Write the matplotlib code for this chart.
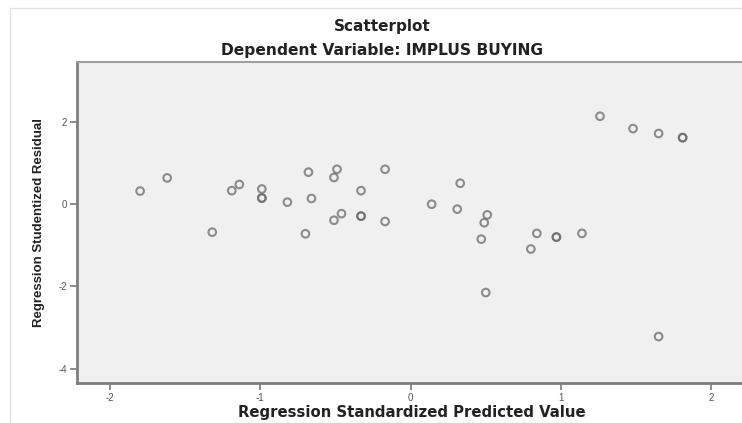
import matplotlib.pyplot as plt
from matplotlib.patches import Rectangle

plt.rcParams['font.family'] = ['Liberation Sans', 'DejaVu Sans']

# values (predicted value, studentized residual)
pred = [-1.80, -1.62, -1.32, -1.19, -1.14, -0.99, -0.99, -0.99, -0.82, -0.68,
        -0.66, -0.70, -0.49, -0.51, -0.46, -0.51, -0.33, -0.33, -0.33, -0.17,
        -0.17, 0.14, 0.33, 0.31, 0.51, 0.49, 0.47, 0.50, 0.80, 0.84,
        0.97, 0.97, 1.14, 1.26, 1.48, 1.65, 1.81, 1.81, 1.65]
resid = [0.32, 0.64, -0.68, 0.33, 0.48, 0.37, 0.15, 0.15, 0.05, 0.78,
         0.14, -0.72, 0.85, 0.65, -0.23, -0.39, 0.33, -0.29, -0.29, 0.85,
         -0.42, 0.00, 0.51, -0.12, -0.26, -0.45, -0.85, -2.15, -1.09, -0.71,
         -0.80, -0.80, -0.71, 2.14, 1.84, 1.72, 1.62, 1.62, -3.22]

xticks = [-2, -1, 0, 1, 2]
yticks = [-4, -2, 0, 2]

fig = plt.figure(figsize=(7.42, 4.23), dpi=100)
fig.patches.append(Rectangle((10 / 742, -0.1), 1.1, 415 / 423 + 0.1,
                             transform=fig.transFigure, fill=False,
                             edgecolor='#e2e2e2', lw=1))

ax = fig.add_axes([77 / 742, 40 / 423, 665 / 742, 321 / 423])
ax.set_facecolor('#f0f0f0')
ax.scatter(pred, resid, s=30, facecolors='none', edgecolors='#6a6a6a',
           linewidths=1.5, alpha=0.75, zorder=3)

ax.set_xlim(-2.22, 2.205)
ax.set_ylim(-4.35, 3.46)
ax.set_xticks(xticks)
ax.set_yticks(yticks)
ax.set_xticklabels([str(t) for t in xticks])
ax.set_yticklabels([str(t) for t in yticks])
ax.tick_params(direction='out', length=5, width=1.2, color='#7a7a7a',
               labelsize=7, labelcolor='#555555', pad=2)

for side in ['left', 'bottom']:
    ax.spines[side].set_color('#7f7f7f')
    ax.spines[side].set_linewidth(2)
ax.spines['top'].set_color('#a0a0a0')
ax.spines['top'].set_linewidth(1.5)
ax.spines['right'].set_visible(False)

ax.set_ylabel('Regression Studentized Residual', fontsize=9.5,
              fontweight='bold', color='#222222', labelpad=10)

bold = dict(ha='center', va='center', fontweight='bold',
            color='#222222', family='DejaVu Sans')
fig.text(412 / 742, 1 - 412 / 423, 'Regression Standardized Predicted Value',
         fontsize=10.7, **bold)
fig.text(382 / 742, 1 - 27 / 423, 'Scatterplot', fontsize=11, **bold)
fig.text(382 / 742, 1 - 51 / 423, 'Dependent Variable: IMPLUS BUYING',
         fontsize=11.2, **bold)

fig.savefig('out.png', dpi=100)
